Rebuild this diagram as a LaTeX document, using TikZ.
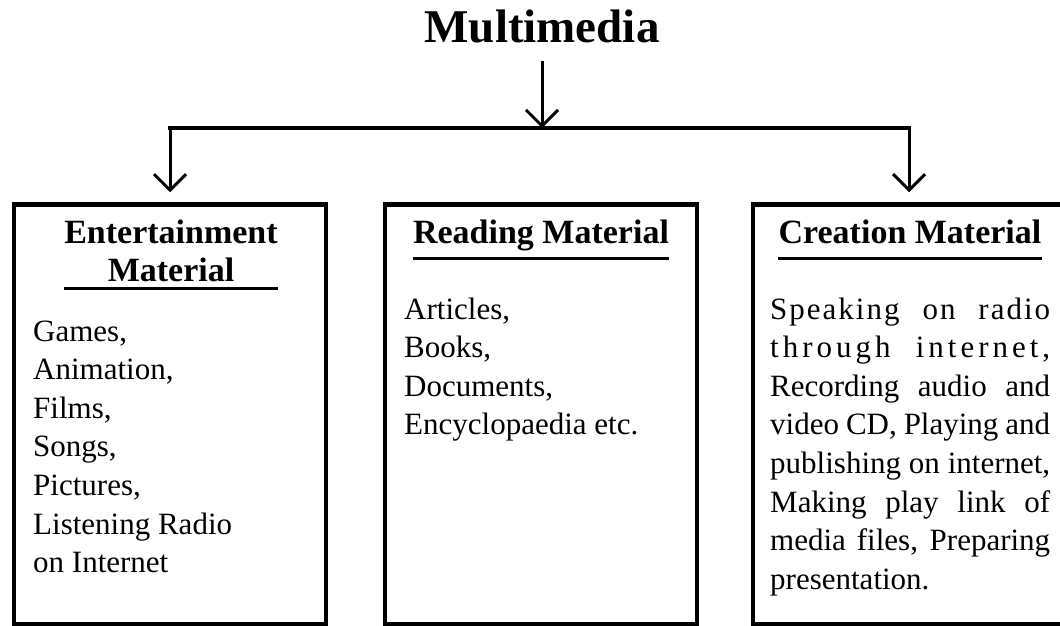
\documentclass[tikz,border=0pt]{standalone}
\usepackage{fontspec}
\setmainfont{Liberation Serif}
\usetikzlibrary{arrows.meta}
% one justified line of fixed width
\newcommand\justline[1]{\makebox[280pt][s]{#1}}
\newcommand\lsp{\kern4pt}
\newcommand\ssp{\kern2pt}
\begin{document}
\begin{tikzpicture}[x=1pt,y=-1pt,
  panel/.style={draw, line width=4.5pt, minimum width=312pt, minimum height=419.5pt, inner sep=0pt},
  titletext/.style={font=\fontsize{47}{56}\selectfont\bfseries, inner sep=0pt, anchor=base},
  head/.style={font=\fontsize{34}{40}\selectfont\bfseries, inner sep=0pt, anchor=base},
  bodyline/.style={font=\fontsize{31}{38.6}\selectfont, inner sep=0pt, anchor=base west},
  rule/.style={line width=3pt},
  bar/.style={line width=4pt, line cap=rect},
  arr/.style={line width=3pt, -{Straight Barb[length=16pt, width=32pt]}}]

\useasboundingbox (0,0) rectangle (1060,626);
\fill[white] (0,0) rectangle (1060,626);
\clip (0,0) rectangle (1060,626);

% title and the three category boxes
\node[titletext] (title) at (542,43) {Multimedia};
\node[panel] (ent) at (170,414.25) {};
\node[panel] (rea) at (541,414.25) {};
\node[panel] (cre) at (909,414.25) {};

% connectors
\coordinate (hub) at (542,128);
\draw[arr, shorten <=17pt] (title.south) -- (hub);
\draw[bar] (ent.north |- hub) -- (cre.north |- hub);
\draw[arr, shorten >=10pt] (ent.north |- hub) -- (ent.north);
\draw[arr, shorten >=10pt] (cre.north |- hub) -- (cre.north);

% headings with their rules
\node[head] (enthead) at (171,243) {Entertainment};
\node[head] (enthead2) at (171,281) {Material};
\draw[rule] (enthead.west |- 0,288) -- (enthead.east |- 0,288);

\node[head] (reahead) at (541,243) {Reading Material};
\draw[rule] (reahead.west |- 0,258) -- (reahead.east |- 0,258);

\node[head] (crehead) at (910,243) {Creation Material};
\draw[rule] (crehead.west |- 0,258) -- (crehead.east |- 0,258);

% entertainment items
\foreach \t [count=\i] in {{Games,},{Animation,},{Films,},{Songs,},{Pictures,},{Listening Radio},{on Internet}}
  \node[bodyline] (entline\i) at (33,{341+38.6*(\i-1)}) {\t};

% reading items
\foreach \t [count=\i] in {{Articles,},{Books,},{Documents,},{Encyclopaedia etc.}}
  \node[bodyline] (realine\i) at (404,{319+38.6*(\i-1)}) {\t};

% creation items, justified
\node[bodyline] (creline1) at (770,319) {\justline{S\ssp p\ssp e\ssp a\ssp k\ssp i\ssp n\ssp g o\ssp n r\ssp a\ssp d\ssp i\ssp o}};
\node[bodyline] (creline2) at (770,357.6) {\justline{t\lsp h\lsp r\lsp o\lsp u\lsp g\lsp h i\lsp n\lsp t\lsp e\lsp r\lsp n\lsp e\lsp t\lsp ,}};
\node[bodyline] (creline3) at (770,396.2) {\justline{Recording audio and}};
\node[bodyline] (creline4) at (770,434.8) {\justline{video CD, Playing and}};
\node[bodyline] (creline5) at (770,473.4) {\justline{publishing on internet,}};
\node[bodyline] (creline6) at (770,512) {\justline{Making play link of}};
\node[bodyline] (creline7) at (770,550.6) {\justline{media files, Preparing}};
\node[bodyline] (creline8) at (770,589.2) {presentation.};
\end{tikzpicture}
\end{document}
